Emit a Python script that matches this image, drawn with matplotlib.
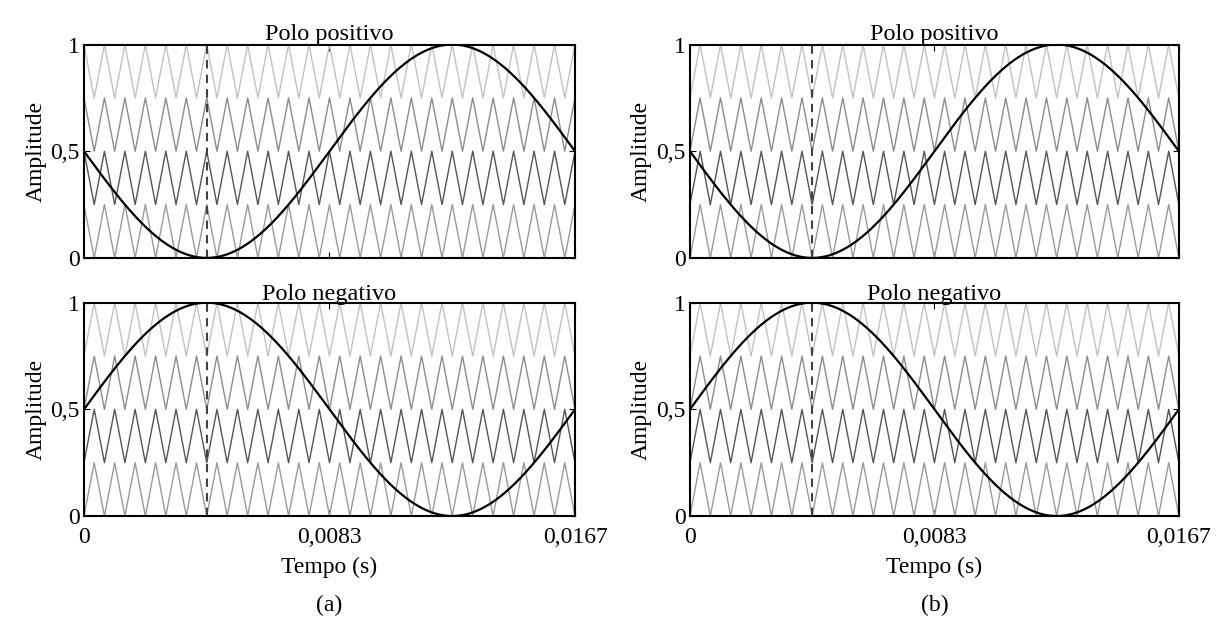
import numpy as np
import matplotlib.pyplot as plt

plt.rcParams['font.family'] = ['Liberation Serif', 'DejaVu Serif']
plt.rcParams['font.size'] = 17

f_fund = 60.0            # Hz
n_carrier = 24           # carrier periods per fundamental period
band_low = [0.0, 0.25, 0.5, 0.75]
band_color = ['#9a9a9a', '#555555', '#8c8c8c', '#c2c2c2']
xticks = [0.0, 1/120, 1/60]
xtick_labels = ['0', '0,0083', '0,0167']
yticks = [0, 0.5, 1]
ytick_labels = ['0', '0,5', '1']
titles = ['Polo positivo', 'Polo negativo']
# carrier starts at its peak (True) or valley (False); rows: (a), (b); cols: pos, neg
carrier_peak_start = [[True, False], [False, False]]
panel_names = ['(a)', '(b)']

T = 1 / f_fund
Tc = T / n_carrier


def carrier(low, peak_start):
    n = 2 * n_carrier + 1
    t = np.arange(n) * Tc / 2
    hi = np.arange(n) % 2 == 0
    if not peak_start:
        hi = ~hi
    return t, low + 0.25 * hi


def draw(ax, sign, peak_start):
    for low, col in zip(band_low, band_color):
        t, c = carrier(low, peak_start)
        ax.plot(t, c, color=col, lw=1.0)
    t = np.linspace(0, T, 600)
    ax.plot(t, 0.5 + sign * 0.5 * np.sin(2 * np.pi * f_fund * t), color='black', lw=1.6)
    ax.plot([T / 4, T / 4], [0, 1], color='#404040', lw=1.5, ls=(0, (4, 3)))
    ax.set_xlim(0, T)
    ax.set_ylim(0, 1)
    ax.set_yticks(yticks)
    ax.set_yticklabels(ytick_labels)
    ax.set_xticks(xticks)
    ax.tick_params(direction='in', top=True, right=True, length=4)
    ax.tick_params(axis='y', pad=3)
    ax.tick_params(axis='x', pad=8)
    for s in ax.spines.values():
        s.set_linewidth(1.5)
    ax.set_ylabel('Amplitude', labelpad=3)


fig = plt.figure(figsize=(12.19, 6.23), dpi=100)
lefts = [0.0689, 0.566]
widths = [0.4028, 0.4011]
bottoms = [0.586, 0.1717]
height = 0.3425

for i in range(2):
    for j in range(2):
        ax = fig.add_axes([lefts[i], bottoms[j], widths[i], height])
        draw(ax, -1 if j == 0 else 1, carrier_peak_start[i][j])
        ax.set_title(titles[j], pad=2, fontsize=17.5)
        if j == 1:
            ax.set_xticklabels(xtick_labels)
            ax.set_xlabel('Tempo (s)', labelpad=6)
        else:
            ax.set_xticklabels([])
    fig.text(lefts[i] + widths[i] / 2, 0.028, panel_names[i], ha='center', va='center')

fig.savefig('out.png', dpi=100)
